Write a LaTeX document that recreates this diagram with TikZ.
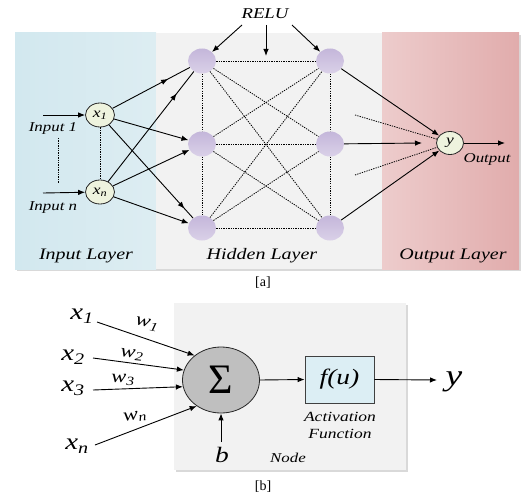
\documentclass[tikz,border=0pt]{standalone}
\usepackage{fontspec}
\setmainfont{Liberation Serif}[FakeStretch=1.25]
\newfontfamily\plainserif{Liberation Serif}
\usetikzlibrary{arrows.meta,decorations.markings,shapes.geometric}
\newcommand{\fsz}[1]{\fontsize{#1}{#1}\selectfont}
\definecolor{inblueL}{HTML}{D2E8EF}
\definecolor{inblueR}{HTML}{DDEDF2}
\definecolor{hidgray}{HTML}{F2F2F2}
\definecolor{outpinkL}{HTML}{EDCCCC}
\definecolor{outpinkR}{HTML}{E1ACAC}
\definecolor{hidtop}{HTML}{C4B6DA}
\definecolor{hidbot}{HTML}{DAD1E8}
\definecolor{innode}{HTML}{EEF3DE}
\definecolor{sumgray}{HTML}{BFBFBF}
\definecolor{actcol}{HTML}{DCEEF4}
\definecolor{shad}{HTML}{D9D9D9}
\begin{document}
\begin{tikzpicture}[x=1pt,y=-1pt,
  tip/.style={-{Latex[length=7pt,width=5.5pt]}},
  arr/.style={line width=0.9pt, tip},
  marr/.style={line width=0.9pt, postaction={decorate},
    decoration={markings, mark=at position #1 with {\arrow{Latex[length=7pt,width=5.5pt]}}}},
  dots/.style={line width=0.8pt, dash pattern=on 1.3pt off 1.1pt},
  hid/.style={ellipse, inner sep=0pt, minimum width=28pt, minimum height=25pt, top color=hidtop, bottom color=hidbot},
  inp/.style={ellipse, draw=black!85, line width=0.8pt, fill=innode, inner sep=0pt, minimum width=29pt, minimum height=24pt, font=\fsz{14}\itshape},
  lbl/.style={font=\fsz{13.5}\itshape, inner sep=0pt},
  layer/.style={font=\fsz{16}\itshape, inner sep=0pt},
  big/.style={font=\fsz{23}\itshape, inner sep=0pt},
  wt/.style={font=\fsz{18}\itshape, inner sep=0pt},
  captxt/.style={font=\fsz{14}, inner sep=0pt}
]
\useasboundingbox (0,0) rectangle (521,495);
% ---------- panels [a]
\fill[shad] (17,35) rectangle (521,271);
\shade[left color=inblueL, right color=inblueR] (15,33) rectangle (156,269);
\fill[hidgray] (156,33) rectangle (382,269);
\shade[left color=outpinkL, right color=outpinkR] (382,33) rectangle (519,269);

% ---------- nodes [a]
\node[inp] (x1) at (100,115) {x\textsubscript{1}};
\node[inp] (xn) at (100,192) {x\textsubscript{n}};
\node[hid] (h1) at (202,61) {};
\node[hid] (h2) at (202,144) {};
\node[hid] (h3) at (202,228) {};
\node[hid] (g1) at (330,61) {};
\node[hid] (g2) at (330,144) {};
\node[hid] (g3) at (330,228) {};
\node[inp, minimum width=27pt, minimum height=23pt] (yo) at (450,143) {y};
\node[font=\fsz{15}\itshape, inner sep=0pt] (relu) at (265,14) {RELU};

\coordinate (i1) at (43,115);
\coordinate (in) at (43,193);
\coordinate (d1) at (58,138);
\coordinate (d2) at (58,183);
\coordinate (r1) at (242,25);
\coordinate (r2) at (266,25);
\coordinate (r3) at (292,25);
\coordinate (r2e) at (266,56);
\coordinate (o1) at (355,115);
\coordinate (o2) at (355,175);
\coordinate (m2) at (422,143);
\coordinate (oe) at (505,143);

% ---------- connectors [a]
\draw[arr] (i1) -- (x1);
\draw[arr] (in) -- (xn);
\draw[dots] (d1) -- (d2);
\draw[dots] (x1) -- (xn);

\draw[marr=0.72] (x1) -- (h1);
\draw[arr] (x1) -- (h2);
\draw[marr=0.9] (x1) -- (h3);
\draw[marr=0.8] (xn) -- (h1);
\draw[arr] (xn) -- (h2);
\draw[arr] (xn) -- (h3);

\foreach \a in {h1,h2,h3}{
  \foreach \b in {g1,g2,g3}{
    \draw[dots] (\a) -- (\b);
  }
}
\draw[dots] (h1) -- (h2);
\draw[dots] (h2) -- (h3);
\draw[dots] (g1) -- (g2);
\draw[dots] (g2) -- (g3);

\draw[arr] (r1) -- (h1);
\draw[arr] (r2) -- (r2e);
\draw[arr] (r3) -- (g1);

\draw[arr] (g1) -- (yo);
\draw[arr] (g2) -- (m2);
\draw[arr] (g3) -- (yo);
\draw[dots] (o1) -- (yo);
\draw[dots] (o2) -- (yo);
\draw[arr] (yo) -- (oe);

% ---------- labels [a]
\node[lbl] (li1) at (53,128) {Input 1};
\node[lbl] (lin) at (53,208) {Input n};
\node[lbl] (lout) at (487,159) {Output};
\node[layer] (lil) at (86,256) {Input Layer};
\node[layer] (lhl) at (262,256) {Hidden Layer};
\node[layer] (lol) at (453,256) {Output Layer};
\node[captxt] (ca) at (263,283) {\plainserif [a]};

% ---------- panel [b]
\fill[shad] (176,305) rectangle (408,472);
\fill[hidgray] (174,303) rectangle (406,470);

\node[ellipse, draw=black!85, line width=0.8pt, fill=sumgray, minimum width=77pt, minimum height=66pt, inner sep=0pt, font=\plainserif\fsz{42}] (s) at (221,380) {Σ};
\node[rectangle, draw=black!75, line width=0.8pt, fill=actcol, minimum width=69pt, minimum height=47pt, inner sep=0pt, font=\fsz{22}\itshape] (fb) at (339.5,379.5) {f(u)};

\node[big] (bx1) at (82,316) {x\textsubscript{1}};
\node[big] (bx2) at (73,357) {x\textsubscript{2}};
\node[big] (bx3) at (73,388) {x\textsubscript{3}};
\node[big] (bxn) at (77,446) {x\textsubscript{n}};
\node[wt, rotate=-12] (w1) at (147,324) {w\textsubscript{1}};
\node[wt, rotate=-6] (w2) at (132,355) {w\textsubscript{2}};
\node[wt] (w3) at (123,380) {w\textsubscript{3}};
\node[wt, rotate=8] (wn) at (135,417) {w\textsubscript{n}};
\node[font=\fsz{22}\itshape, inner sep=0pt] (bb) at (222,455) {b};
\node[font=\fsz{30}\itshape, inner sep=0pt] (by) at (454,382) {y};
\node[font=\fsz{14}\itshape, inner sep=0pt, align=center] (act) at (340,425) {Activation\\[3pt]Function};
\node[font=\fsz{13.5}\itshape, inner sep=0pt] (nd) at (288,458) {Node};
\node[captxt] (cb) at (263,487) {\plainserif [b]};

\coordinate (bs1) at (97,322);
\coordinate (bs2) at (93,358);
\coordinate (bs3) at (93,390);
\coordinate (bsn) at (95,445);
\coordinate (bbs) at (221,442);
\coordinate (ye) at (437,380);

\draw[arr] (bs1) -- (s.137);
\draw[arr] (bs2) -- (s.165);
\draw[arr] (bs3) -- (s.190);
\draw[arr] (bsn) -- (s.227);
\draw[arr] (bbs) -- (s.south);
\draw[arr] (s.east) -- (fb.west);
\draw[arr] (fb.east) -- (ye);
\end{tikzpicture}
\end{document}
